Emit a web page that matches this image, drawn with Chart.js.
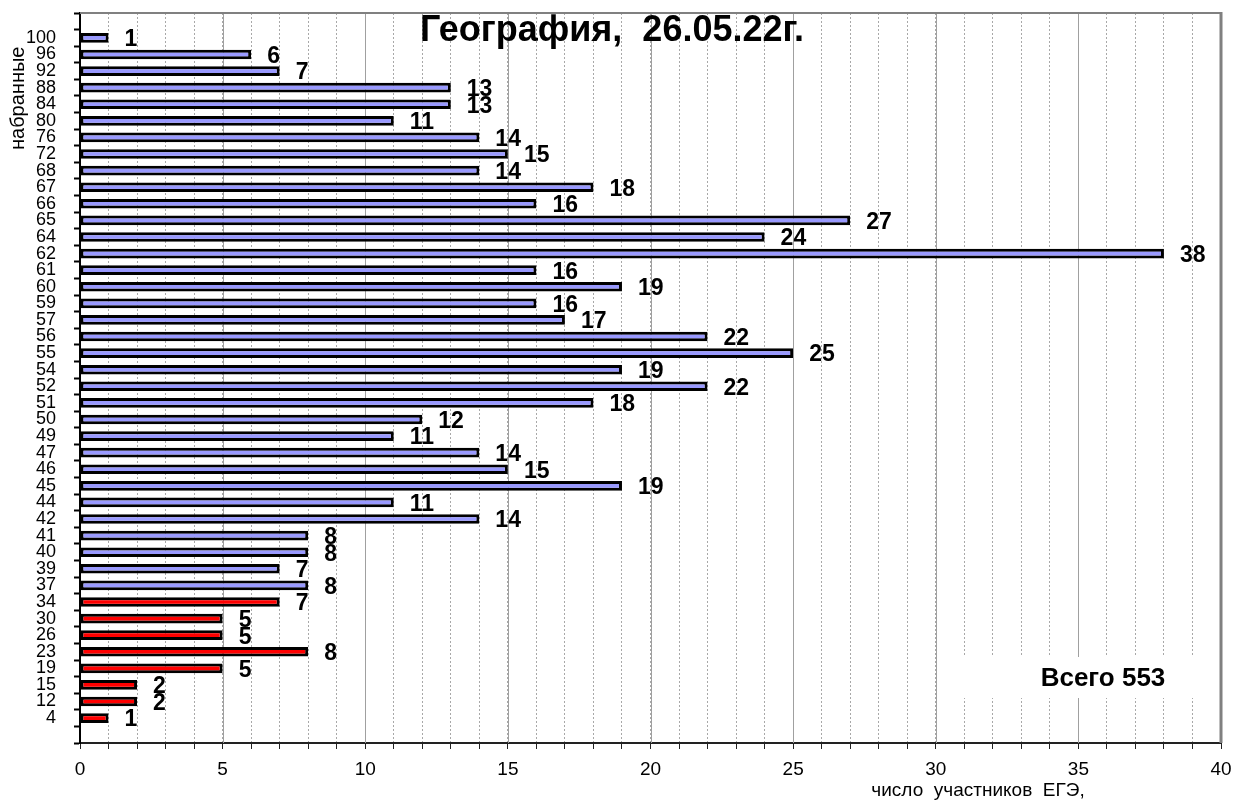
<!DOCTYPE html>
<html>
<head>
<meta charset="utf-8">
<script src="https://cdn.jsdelivr.net/npm/chart.js@4"></script>
<style>
  html, body { margin: 0; padding: 0; background: #fff; overflow: hidden; }
  canvas { display: block; }
</style>
</head>
<body>
<canvas id="myChart" width="1235" height="801"></canvas>
<script>
// баллы (снизу вверх) и число участников
const scores = ['4', '12', '15', '19', '23', '26', '30', '34', '37', '39', '40', '41', '42', '44', '45', '46', '47', '49', '50',
    '51', '52', '54', '55', '56', '57', '59', '60', '61', '62', '64', '65', '66', '67', '68', '72', '76', '80', '84', '88', '92', '96', '100'];
const counts = [1, 2, 2, 5, 8, 5, 5, 7, 8, 7, 8, 8, 14, 11, 19, 15, 14, 11, 12,
    18, 22, 19, 25, 22, 17, 16, 19, 16, 38, 24, 27, 16, 18, 14, 15, 14, 11, 13, 13, 7, 6, 1];
const passScore = 37;
const xTicks = [0, 5, 10, 15, 20, 25, 30, 35, 40];

const titleText = 'География,  26.05.22г.';
const totalText = 'Всего 553';
const font = '"Liberation Sans", Arial, sans-serif';

// пустые строки сверху и снизу, как в оригинале
const labels = [''].concat(scores, ['']);
const values = [null].concat(counts, [null]);
const colors = labels.map(s => (s !== '' && Number(s) < passScore) ? '#ff0000' : '#9999ff');

const extras = {
    id: 'extras',
    beforeDatasetsDraw(chart) {
        const ctx = chart.ctx, area = chart.chartArea, x = chart.scales.x;
        ctx.save();
        // сплошные линии на 5, 10, ...
        ctx.strokeStyle = '#a0a0a0';
        ctx.lineWidth = 1;
        for (let v = 5; v < 40; v += 5) {
            let px = Math.round(x.getPixelForValue(v)) + 0.5;
            ctx.beginPath();
            ctx.moveTo(px, area.top);
            ctx.lineTo(px, area.bottom);
            ctx.stroke();
        }
        // рамка сверху и справа
        ctx.strokeStyle = '#808080';
        ctx.lineWidth = 2;
        ctx.beginPath();
        ctx.moveTo(area.left, area.top);
        ctx.lineTo(area.right, area.top);
        ctx.stroke();
        ctx.lineWidth = 3;
        ctx.beginPath();
        ctx.moveTo(area.right, area.top - 1);
        ctx.lineTo(area.right, area.bottom);
        ctx.stroke();
        // белая подложка под "Всего"
        ctx.fillStyle = '#fff';
        ctx.fillRect(x.getPixelForValue(30.5), 657, x.getPixelForValue(39.8) - x.getPixelForValue(30.5), 41);
        ctx.fillStyle = '#000';
        ctx.font = 'bold 26px ' + font;
        ctx.textAlign = 'center';
        ctx.textBaseline = 'middle';
        ctx.fillText(totalText, 1103, 679);
        // заголовок
        ctx.font = 'bold 36px ' + font;
        ctx.textBaseline = 'alphabetic';
        ctx.fillText(titleText, 612, 41);
        ctx.restore();
    },
    afterDatasetsDraw(chart) {
        const ctx = chart.ctx, x = chart.scales.x;
        const meta = chart.getDatasetMeta(0);
        ctx.save();
        ctx.font = 'bold 23px ' + font;
        ctx.fillStyle = '#000';
        ctx.textAlign = 'left';
        ctx.textBaseline = 'middle';
        meta.data.forEach((bar, i) => {
            if (values[i] === null) return;
            ctx.fillText(values[i], bar.x + 16, bar.y + 2);
        });
        // подписи шкалы X
        ctx.font = '19px ' + font;
        ctx.textAlign = 'center';
        for (let v of xTicks) {
            ctx.fillText(v, x.getPixelForValue(v), 770);
        }
        // подписи осей
        ctx.textBaseline = 'alphabetic';
        ctx.fillText('число  участников  ЕГЭ,', 978, 796);
        ctx.translate(24, 150);
        ctx.rotate(-Math.PI / 2);
        ctx.font = '20px ' + font;
        ctx.textAlign = 'left';
        ctx.fillText('набранные', 0, 0);
        ctx.restore();
    }
};

const data = {
    labels: labels,
    datasets: [{
        data: values,
        backgroundColor: colors,
        borderColor: '#000',
        borderWidth: 3,
        borderSkipped: false,
        barPercentage: 0.58,
        categoryPercentage: 1
    }]
};

const config = {
    type: 'bar',
    data: data,
    options: {
        indexAxis: 'y',
        responsive: false,
        animation: false,
        layout: { padding: { top: 13, right: 14, left: 0, bottom: 52 } },
        plugins: {
            legend: { display: false },
            tooltip: { enabled: false }
        },
        scales: {
            x: {
                type: 'linear',
                min: 0,
                max: 40,
                ticks: {
                    stepSize: 1,
                    display: false
                },
                grid: {
                    color: '#a8a8a8',
                    lineWidth: 1,
                    tickLength: 6,
                    tickColor: '#222',
                    tickWidth: 1
                },
                border: { color: '#222', width: 2, dash: [2, 2] }
            },
            y: {
                type: 'category',
                reverse: true,
                afterFit(scale) {
                    scale.width = 80;
                    scale.paddingTop = 0;
                    scale.paddingBottom = 0;
                },
                ticks: {
                    autoSkip: false,
                    padding: 18,
                    color: '#000',
                    font: { family: font, size: 18 }
                },
                grid: {
                    drawOnChartArea: false,
                    offset: true,
                    tickLength: 6,
                    tickColor: '#000',
                    tickWidth: 2
                },
                border: { color: '#000', width: 2 }
            }
        }
    },
    plugins: [extras]
};

const myChart = new Chart(document.getElementById('myChart').getContext('2d'), config);
</script>
</body>
</html>
